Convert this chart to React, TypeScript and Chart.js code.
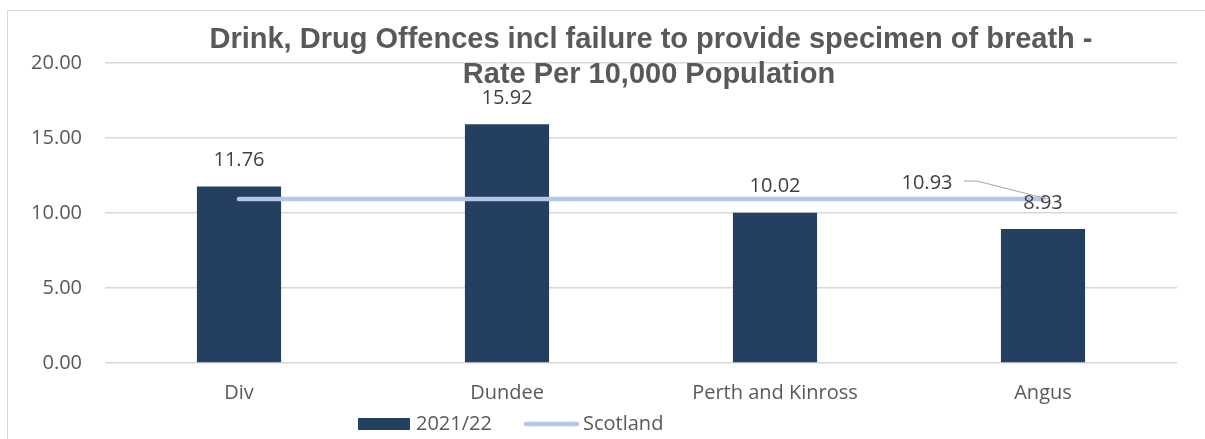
import React, { useEffect, useRef } from "react";
import { Chart, registerables } from "chart.js";

Chart.register(...registerables);

const categories = ["Div", "Dundee", "Perth and Kinross", "Angus"];
const rate2021 = [11.76, 15.92, 10.02, 8.93];
const scotland = [10.93, 10.93, 10.93, 10.93];
const yTicks = [0, 5, 10, 15, 20];
const titleLines = [
  "Drink, Drug Offences incl failure to provide specimen of breath -",
  "Rate Per 10,000 Population",
];
const seriesNames = ["2021/22", "Scotland"];

const BAR_COLOR = "#243F60";
const LINE_COLOR = "#B4C7E7";
const TEXT = "#595959";
const LABEL = "#404040";
const FONT = "'Open Sans', sans-serif";

const decorPlugin = {
  id: "decor",
  beforeDraw(chart: any) {
    const ctx = chart.ctx;
    ctx.save();
    ctx.strokeStyle = "#D9D9D9";
    ctx.lineWidth = 1;
    ctx.beginPath();
    ctx.moveTo(7.5, chart.height);
    ctx.lineTo(7.5, 10.5);
    ctx.lineTo(chart.width, 10.5);
    ctx.stroke();
    ctx.restore();
  },
  afterDatasetsDraw(chart: any) {
    const ctx = chart.ctx;
    ctx.save();
    // bar value labels
    ctx.font = `20px ${FONT}`;
    ctx.fillStyle = LABEL;
    ctx.textAlign = "center";
    ctx.textBaseline = "middle";
    const barMeta = chart.getDatasetMeta(0);
    barMeta.data.forEach((el: any, i: number) => {
      ctx.fillText(rate2021[i].toFixed(2), el.x, el.y - 26);
    });
    // Scotland label on last point with leader line
    const lineMeta = chart.getDatasetMeta(1);
    const last = lineMeta.data[lineMeta.data.length - 1];
    const lx = last.x - 116;
    const ly = last.y - 16;
    ctx.fillText(scotland[scotland.length - 1].toFixed(2), lx, ly);
    ctx.strokeStyle = "#A6A6A6";
    ctx.lineWidth = 1;
    ctx.beginPath();
    ctx.moveTo(lx + 37, ly - 2);
    ctx.lineTo(lx + 50, ly - 2);
    ctx.lineTo(last.x + 5, last.y);
    ctx.stroke();
    ctx.restore();
  },
  afterDraw(chart: any) {
    const ctx = chart.ctx;
    ctx.save();
    // title
    ctx.font = `bold 29px 'Liberation Sans', Arial, sans-serif`;
    ctx.fillStyle = TEXT;
    ctx.textAlign = "center";
    ctx.textBaseline = "middle";
    ctx.fillText(titleLines[0], 651, 40);
    ctx.fillText(titleLines[1], 649, 75);
    // legend
    const ly = 424;
    ctx.fillStyle = BAR_COLOR;
    ctx.fillRect(358, ly - 6, 52, 12);
    ctx.font = `20px ${FONT}`;
    ctx.fillStyle = TEXT;
    ctx.textAlign = "left";
    ctx.fillText(seriesNames[0], 416, ly);
    ctx.strokeStyle = LINE_COLOR;
    ctx.lineWidth = 4.5;
    ctx.lineCap = "round";
    ctx.beginPath();
    ctx.moveTo(526, ly);
    ctx.lineTo(577, ly);
    ctx.stroke();
    ctx.fillText(seriesNames[1], 583, ly);
    ctx.restore();
  },
};

export default function App() {
  const ref = useRef<HTMLCanvasElement>(null);
  useEffect(() => {
    if (!ref.current) return;
    const chart = new Chart(ref.current, {
      type: "bar",
      data: {
        labels: categories,
        datasets: [
          {
            type: "bar",
            label: seriesNames[0],
            data: rate2021,
            backgroundColor: BAR_COLOR,
            categoryPercentage: 1,
            barPercentage: 0.314,
            order: 1,
          },
          {
            type: "line",
            label: seriesNames[1],
            data: scotland,
            borderColor: LINE_COLOR,
            borderWidth: 4.5,
            borderCapStyle: "round",
            pointRadius: 0,
            fill: false,
            order: 0,
          } as any,
        ],
      },
      options: {
        responsive: false,
        animation: false,
        layout: { padding: { top: 63, right: 28, bottom: 0, left: 0 } },
        plugins: {
          legend: { display: false },
          title: { display: false },
          tooltip: { enabled: false },
        },
        scales: {
          x: {
            grid: { display: false, drawTicks: false },
            border: { display: false },
            ticks: {
              color: TEXT,
              font: { family: FONT, size: 20 },
              padding: 18,
              maxRotation: 0,
            },
            afterFit(scale: any) {
              scale.height = 76;
            },
          },
          y: {
            min: 0,
            max: 20,
            afterBuildTicks(scale: any) {
              scale.ticks = yTicks.map((v) => ({ value: v }));
            },
            grid: { color: "#D9D9D9", lineWidth: 1.5, drawTicks: false },
            border: { display: false },
            ticks: {
              color: TEXT,
              font: { family: FONT, size: 20 },
              padding: 23,
              callback: (v: any) => Number(v).toFixed(2),
            },
            afterFit(scale: any) {
              scale.width = 105;
            },
          },
        },
      },
      plugins: [decorPlugin],
    });
    return () => chart.destroy();
  }, []);
  return (
    <div style={{ position: "absolute", left: 0, top: 0, width: 1205, height: 439, background: "#fff" }}>
      <canvas ref={ref} width={1205} height={439} />
    </div>
  );
}
